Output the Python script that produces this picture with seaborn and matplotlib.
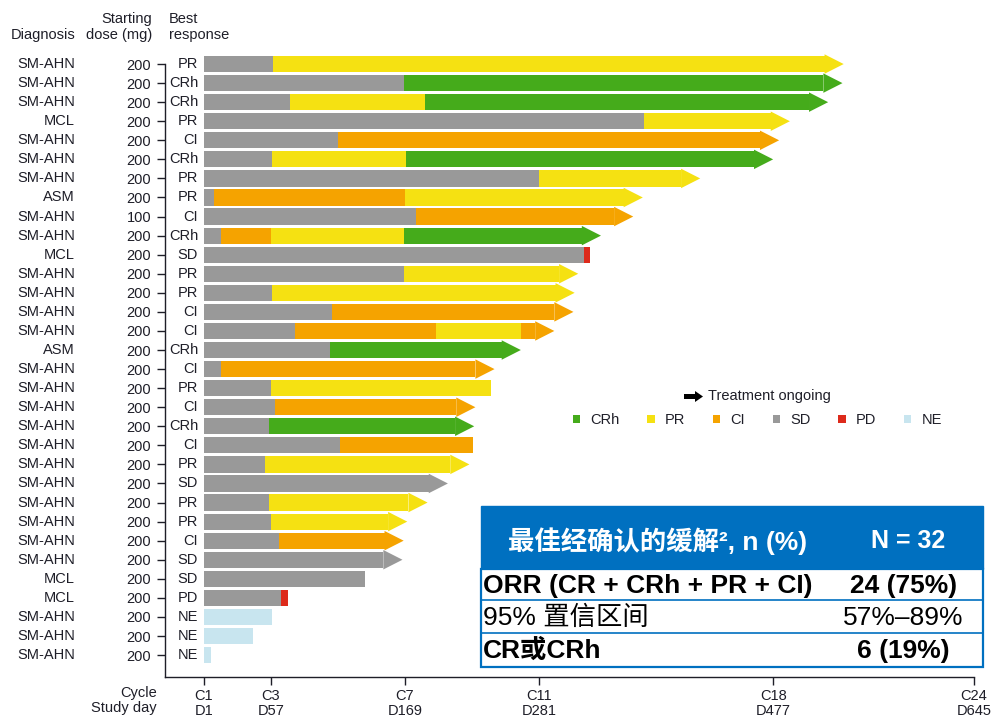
import matplotlib.pyplot as plt
import matplotlib.patches as mpatches
from matplotlib.transforms import blended_transform_factory
import seaborn as sns

# Patient rows, top to bottom
diagnosis = ["SM-AHN", "SM-AHN", "SM-AHN", "MCL", "SM-AHN", "SM-AHN", "SM-AHN", "ASM",
             "SM-AHN", "SM-AHN", "MCL", "SM-AHN", "SM-AHN", "SM-AHN", "SM-AHN", "ASM",
             "SM-AHN", "SM-AHN", "SM-AHN", "SM-AHN", "SM-AHN", "SM-AHN", "SM-AHN", "SM-AHN",
             "SM-AHN", "SM-AHN", "SM-AHN", "MCL", "MCL", "SM-AHN", "SM-AHN", "SM-AHN"]
dose = [200, 200, 200, 200, 200, 200, 200, 200, 100, 200, 200, 200, 200, 200, 200, 200,
        200, 200, 200, 200, 200, 200, 200, 200, 200, 200, 200, 200, 200, 200, 200, 200]
best_response = ["PR", "CRh", "CRh", "PR", "CI", "CRh", "PR", "PR", "CI", "CRh", "SD", "PR",
                 "PR", "CI", "CI", "CRh", "CI", "PR", "CI", "CRh", "CI", "PR", "SD", "PR",
                 "PR", "CI", "SD", "SD", "PD", "NE", "NE", "NE"]

# response segments per patient and the study day each segment ends
seg_resp = [
    ["SD", "PR"], ["SD", "CRh"], ["SD", "PR", "CRh"], ["SD", "PR"], ["SD", "CI"],
    ["SD", "PR", "CRh"], ["SD", "PR"], ["SD", "CI", "PR"], ["SD", "CI"],
    ["SD", "CI", "PR", "CRh"], ["SD", "PD"], ["SD", "PR"], ["SD", "PR"], ["SD", "CI"],
    ["SD", "CI", "PR", "CI"], ["SD", "CRh"], ["SD", "CI"], ["SD", "PR"], ["SD", "CI"],
    ["SD", "CRh"], ["SD", "CI"], ["SD", "PR"], ["SD"], ["SD", "PR"], ["SD", "PR"],
    ["SD", "CI"], ["SD"], ["SD"], ["SD", "PD"], ["NE"], ["NE"], ["NE"],
]
seg_end = [
    [59, 520], [168, 519], [73, 186, 507], [369, 475], [113, 466],
    [58, 170, 461], [281, 400], [9, 169, 352], [178, 344],
    [15, 57, 168, 317], [319, 324], [168, 298], [58, 295], [108, 294],
    [77, 195, 266, 278], [106, 250], [15, 228], [57, 241], [60, 212],
    [55, 211], [115, 226], [52, 207], [189], [55, 172], [57, 155],
    [64, 152], [151], [136], [65, 71], [58], [42], [7],
]
ongoing = [1, 1, 1, 1, 1, 1, 1, 1, 1, 1, 0, 1, 1, 1, 1, 1,
           1, 0, 1, 1, 0, 1, 1, 1, 1, 1, 1, 0, 0, 0, 0, 0]

cycle_ticks = [1, 57, 169, 281, 477, 645]
cycle_labels = ["C1", "C3", "C7", "C11", "C18", "C24"]
day_labels = ["D1", "D57", "D169", "D281", "D477", "D645"]

colors = {"CRh": "#45AB1B", "PR": "#F5E112", "CI": "#F5A300", "SD": "#999999",
          "PD": "#DD2A1B", "NE": "#C8E5EF"}

sns.set_theme(style="white")
plt.rcParams['font.family'] = ['Liberation Sans', 'Noto Sans CJK SC']

W, H = 991, 717
fs = 10.5
txt = '#1e1e28'
fig = plt.figure(figsize=(W / 100, H / 100), dpi=100)
ax = fig.add_axes([165 / W, 1 - 677 / H, 815 / W, (677 - 52.6) / H])

bar_h = 0.85
head_h = 1.02
head_len = 16
for i in range(len(diagnosis)):
    start = 1
    for resp, end in zip(seg_resp[i], seg_end[i]):
        ax.barh(i, end - start, left=start, height=bar_h, color=colors[resp], linewidth=0)
        start = end
    if ongoing[i]:
        last = seg_resp[i][-1]
        tri = mpatches.Polygon([[start, i - head_h / 2], [start + head_len, i],
                                [start, i + head_h / 2]], closed=True,
                               facecolor=colors[last], edgecolor='none')
        ax.add_patch(tri)

ax.set_xlim(-31.6, 650)
ax.set_ylim(32.15, -0.6)
ax.set_yticks(range(len(dose)))
ax.set_yticklabels([str(d) for d in dose], fontsize=fs, color=txt)
ax.set_xticks(cycle_ticks)
ax.set_xticklabels([c + "\n" + d for c, d in zip(cycle_labels, day_labels)],
                   fontsize=fs, color=txt, linespacing=1.05)
ax.tick_params(axis='both', length=6, width=1, color=txt, direction='out')
ax.tick_params(axis='y', pad=4)
ax.tick_params(axis='x', pad=3)
ax.xaxis.set_ticks_position('bottom')
ax.yaxis.set_ticks_position('left')
sns.despine(ax=ax)
for s in ['left', 'bottom']:
    ax.spines[s].set_color(txt)
    ax.spines[s].set_linewidth(1)
ax.spines['left'].set_bounds(32.15, 0)
ax.spines['bottom'].set_bounds(-31.6, 645)
ax.grid(False)

# row labels
tr_fig_y = blended_transform_factory(fig.transFigure, ax.transData)
for i in range(len(diagnosis)):
    ax.text(75 / W, i, diagnosis[i], transform=tr_fig_y, ha='right', va='center',
            fontsize=fs, color=txt)
    ax.text(198 / W, i, best_response[i], transform=tr_fig_y, ha='right', va='center',
            fontsize=fs, color=txt)

# column headers
fig.text(75 / W, 1 - 35 / H, "Diagnosis", ha='right', va='center', fontsize=fs, color=txt)
fig.text(152 / W, 1 - 27 / H, "Starting\ndose (mg)", ha='right', va='center', fontsize=fs,
         color=txt, linespacing=1.15)
fig.text(169 / W, 1 - 27 / H, "Best\nresponse", ha='left', va='center', fontsize=fs,
         color=txt, linespacing=1.15)
fig.text(157 / W, 1 - 686 / H, "Cycle\nStudy day", ha='right', va='top', fontsize=fs,
         color=txt, linespacing=1.05)

# legend
arrow = mpatches.Polygon([[684 / W, 1 - 394 / H], [695 / W, 1 - 394 / H], [695 / W, 1 - 391 / H],
                          [703 / W, 1 - 396.5 / H], [695 / W, 1 - 402 / H], [695 / W, 1 - 399 / H],
                          [684 / W, 1 - 399 / H]], closed=True, transform=fig.transFigure,
                         facecolor='black', edgecolor='none')
fig.patches.append(arrow)
fig.text(708 / W, 1 - 396 / H, "Treatment ongoing", ha='left', va='center', fontsize=fs,
         color=txt)
order = ["CRh", "PR", "CI", "SD", "PD", "NE"]
handles = [mpatches.Patch(facecolor=colors[k], edgecolor='none', label=k) for k in order]
fig.legend(handles=handles, ncol=6, frameon=False, fontsize=fs, handlelength=0.5,
           handleheight=0.5, handletextpad=0.7, columnspacing=1.9,
           loc='center left', bbox_to_anchor=(573 / W, 1 - 420.5 / H), borderaxespad=0,
           borderpad=0, labelcolor=txt)

# response table
blue = '#0070C0'
fig.patches.append(mpatches.Rectangle((481 / W, 1 - 569 / H), 502 / W, 63 / H,
                                      transform=fig.transFigure, facecolor=blue, edgecolor=blue))
fig.patches.append(mpatches.Rectangle((481 / W, 1 - 667 / H), 502 / W, 98 / H,
                                      transform=fig.transFigure, facecolor='white',
                                      edgecolor=blue, linewidth=1.6))
for yy in [600, 633]:
    fig.add_artist(plt.Line2D([481 / W, 983 / W], [1 - yy / H, 1 - yy / H],
                              transform=fig.transFigure, color=blue, linewidth=1.2))

fig.text(508 / W, 1 - 541 / H, "最佳经确认的缓解², n (%)", ha='left', va='center',
         fontsize=19, fontweight='bold', color='white')
fig.text(908 / W, 1 - 541 / H, "N = 32", ha='center', va='center', fontsize=18,
         fontweight='bold', color='white')
fig.text(483 / W, 1 - 586 / H, "ORR (CR + CRh + PR + CI)", ha='left', va='center',
         fontsize=19, fontweight='bold', color='black')
fig.text(904 / W, 1 - 586 / H, "24 (75%)", ha='center', va='center', fontsize=19,
         fontweight='bold', color='black')
fig.text(483 / W, 1 - 618 / H, "95% 置信区间", ha='left', va='center', fontsize=19,
         color='black')
fig.text(903 / W, 1 - 618 / H, "57%–89%", ha='center', va='center', fontsize=19,
         color='black')
fig.text(483 / W, 1 - 651 / H, "CR或CRh", ha='left', va='center', fontsize=19,
         fontweight='bold', color='black')
fig.text(903 / W, 1 - 651 / H, "6 (19%)", ha='center', va='center', fontsize=19,
         fontweight='bold', color='black')

fig.savefig("out.png", dpi=100)
